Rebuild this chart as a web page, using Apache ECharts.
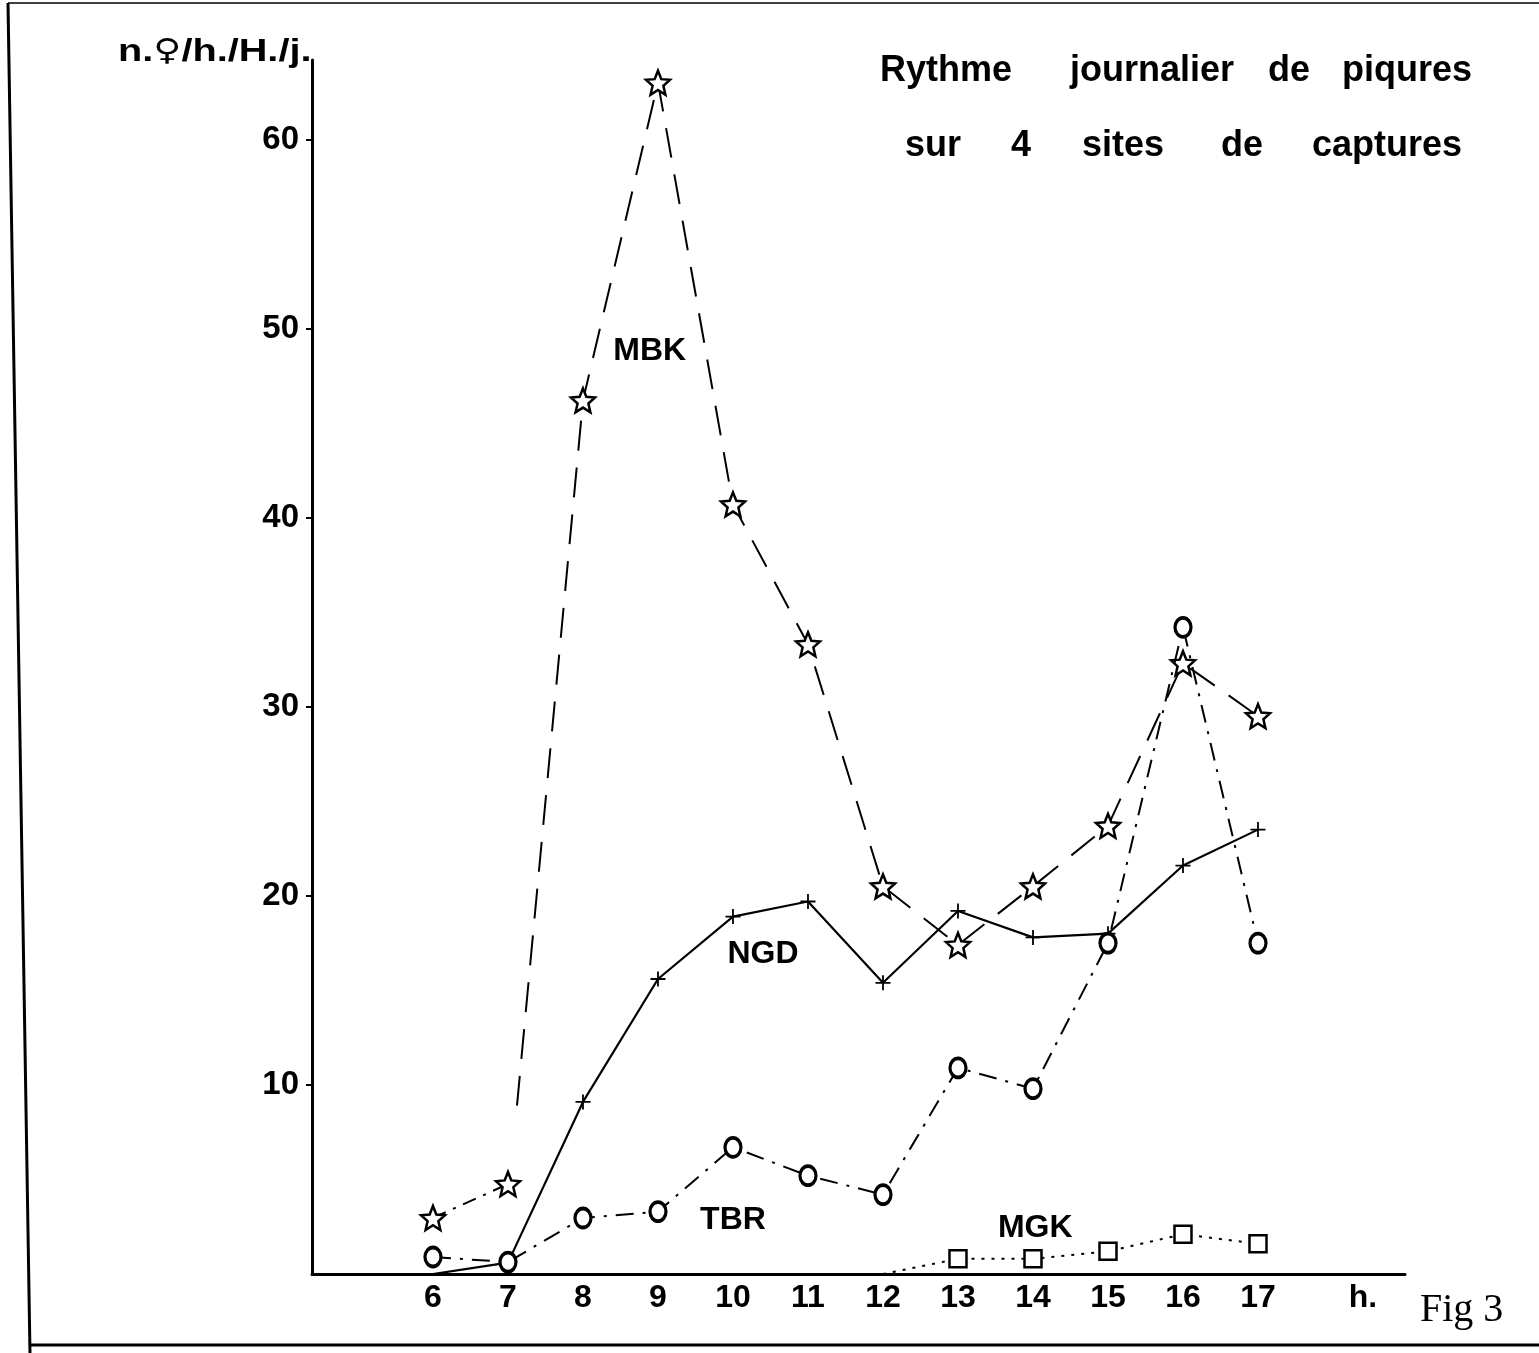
<!DOCTYPE html>
<html><head><meta charset="utf-8">
<script src="https://cdn.jsdelivr.net/npm/echarts@6/dist/echarts.min.js"></script>
<style>html,body{margin:0;padding:0;background:#fff}#c{width:1539px;height:1353px}</style>
</head><body><div id="c"></div>
<script>
const hours = [6,7,8,9,10,11,12,13,14,15,16,17];
const yTicks = [10,20,30,40,50,60];
const mbkEarly = [2.96, 4.76];               // 6h, 7h (dash-dot join)
const mbkLineStart = [7.12, 8.9];            // where the dashed MBK line starts
const mbkValues = [46.2, 63.0, 40.7, 33.3, 20.5, 17.4, 20.5, 23.7, 32.3, 29.5]; // 8h..17h
const ngdValues = [0.0, 0.6, 9.1, 15.6, 18.9, 19.7, 15.4, 19.2, 17.8, 18.0, 21.6, 23.5];
const tbrValues = [0.9, 0.63, 2.96, 3.3, 6.7, 5.2, 4.2, 10.9, 9.8, 17.5, 34.2, 17.5];
const mgkHours = [12,13,14,15,16,17];
const mgkValues = [0.0, 0.8, 0.8, 1.2, 2.1, 1.6];
const seriesLabels = [['MBK', 8.89, 48.8], ['NGD', 10.40, 16.9], ['TBR', 10.0, 2.86], ['MGK', 14.03, 2.43]];
const axisUnitX = 'h.';
const titleWords1 = ['Rythme', 'journalier', 'de', 'piqures'];
const titleWords2 = ['sur', '4', 'sites', 'de', 'captures'];
const figLabel = 'Fig 3';

const titleX1 = [880, 1070, 1268, 1342];
const titleX2 = [905, 1011, 1082, 1221, 1312];

const STAR = 'path://M50,0L63.2,31.8L97.6,34.5L71.4,57L79.4,90.5L50,72.5L20.6,90.5L28.6,57L2.4,34.5L36.8,31.8Z';
const PLUS = 'path://M44,0H56V44H100V56H56V100H44V56H0V44H44Z';
const FONT = '"Liberation Sans", Arial, sans-serif';

const chart = echarts.init(document.getElementById('c'), null, {renderer:'canvas'});

const ngdData = hours.map((h,i) => i < 2 ? {value:[h, ngdValues[i]], symbol:'none'} : [h, ngdValues[i]]);
const mgkData = mgkHours.map((h,i) => i === 0 ? {value:[h, mgkValues[i]], symbol:'none'} : [h, mgkValues[i]]);
const mbkB = [{value: mbkLineStart, symbol:'none'}].concat(mbkValues.map((v,i) => [hours[i+2], v]));

const hollow = {color:'#fff', borderColor:'#000', borderWidth:2.5, opacity:1};

const titleGraphics = [];
titleWords1.forEach((w,i) => titleGraphics.push({type:'text', x:titleX1[i], y:53,
  style:{text:w, fill:'#000', font:'bold 36px ' + FONT}}));
titleWords2.forEach((w,i) => titleGraphics.push({type:'text', x:titleX2[i], y:128,
  style:{text:w, fill:'#000', font:'bold 36px ' + FONT}}));

chart.setOption({
  animation:false,
  backgroundColor:'#fff',
  grid:{left:312, right:134, top:60, bottom:79, containLabel:false},
  xAxis:{
    type:'value', min:4.387, max:18.96,
    splitLine:{show:false},
    axisLine:{lineStyle:{color:'#000', width:3}},
    axisTick:{show:false},
    axisLabel:{
      customValues: hours.concat([18.4]),
      formatter: v => v > 18 ? axisUnitX : String(Math.round(v)),
      color:'#000', fontFamily:FONT, fontWeight:'bold', fontSize:32, margin:8
    }
  },
  yAxis:{
    type:'value', min:0, max:64.2,
    splitLine:{show:false},
    axisLine:{lineStyle:{color:'#000', width:3}},
    axisTick:{customValues:yTicks, length:6, lineStyle:{color:'#000', width:2}},
    axisLabel:{customValues:yTicks, color:'#000', fontFamily:FONT, fontWeight:'bold', fontSize:33, margin:13}
  },
  graphic:[
    {type:'line', shape:{x1:8,y1:3,x2:30,y2:1353}, style:{stroke:'#000', lineWidth:3}, silent:true},
    {type:'line', shape:{x1:8,y1:3,x2:1539,y2:3}, style:{stroke:'#000', lineWidth:1.5}, silent:true},
    {type:'line', shape:{x1:30,y1:1345,x2:1539,y2:1345}, style:{stroke:'#000', lineWidth:3}, silent:true},
    {type:'text', x:118, y:37, scaleX:1.28, style:{
      text:'{a|n.}{b|\u2640}{a|/h./H./j.}',
      rich:{a:{fill:'#000', font:'bold 31px ' + FONT}, b:{fill:'#000', font:'bold 30px "DejaVu Sans", sans-serif'}}}},
    {type:'text', x:1420, y:1290, style:{text:figLabel, fill:'#000', font:'40px "Liberation Serif", "DejaVu Serif", serif'}}
  ].concat(titleGraphics),
  series:[
    {name:'MBK-a', type:'line', data: mbkEarly.map((v,i)=>[hours[i], v]),
      symbol:STAR, symbolSize:24, itemStyle:hollow, z:5,
      lineStyle:{color:'#000', width:2, type:[14,8,3,8]}},
    {name:'MBK', type:'line', data: mbkB,
      symbol:STAR, symbolSize:24, itemStyle:hollow, z:5,
      lineStyle:{color:'#000', width:2, type:[30,17]}},
    {name:'NGD', type:'line', data: ngdData,
      symbol:PLUS, symbolSize:15, itemStyle:{color:'#000'}, z:4,
      lineStyle:{color:'#000', width:2.2, type:'solid'}},
    {name:'TBR', type:'line', data: tbrValues.map((v,i)=>[hours[i], v]),
      symbol:'circle', symbolSize:[16,19], itemStyle:{color:'#fff', borderColor:'#000', borderWidth:3.5, opacity:1}, z:6,
      lineStyle:{color:'#000', width:2, type:[18,9,3,9]}},
    {name:'MGK', type:'line', data: mgkData,
      symbol:'rect', symbolSize:17, itemStyle:hollow, z:5,
      lineStyle:{color:'#000', width:2, type:[3,7]}},
    {name:'labels', type:'scatter', symbolSize:0, z:10, silent:true,
      itemStyle:{opacity:1, color:'#000'},
      data: seriesLabels.map(l => ({value:[l[1], l[2]], name:l[0]})),
      label:{show:true, position:'inside', formatter: p => p.name, color:'#000', opacity:1, fontFamily:FONT, fontWeight:'bold', fontSize:32}}
  ]
});
</script>
</body></html>
